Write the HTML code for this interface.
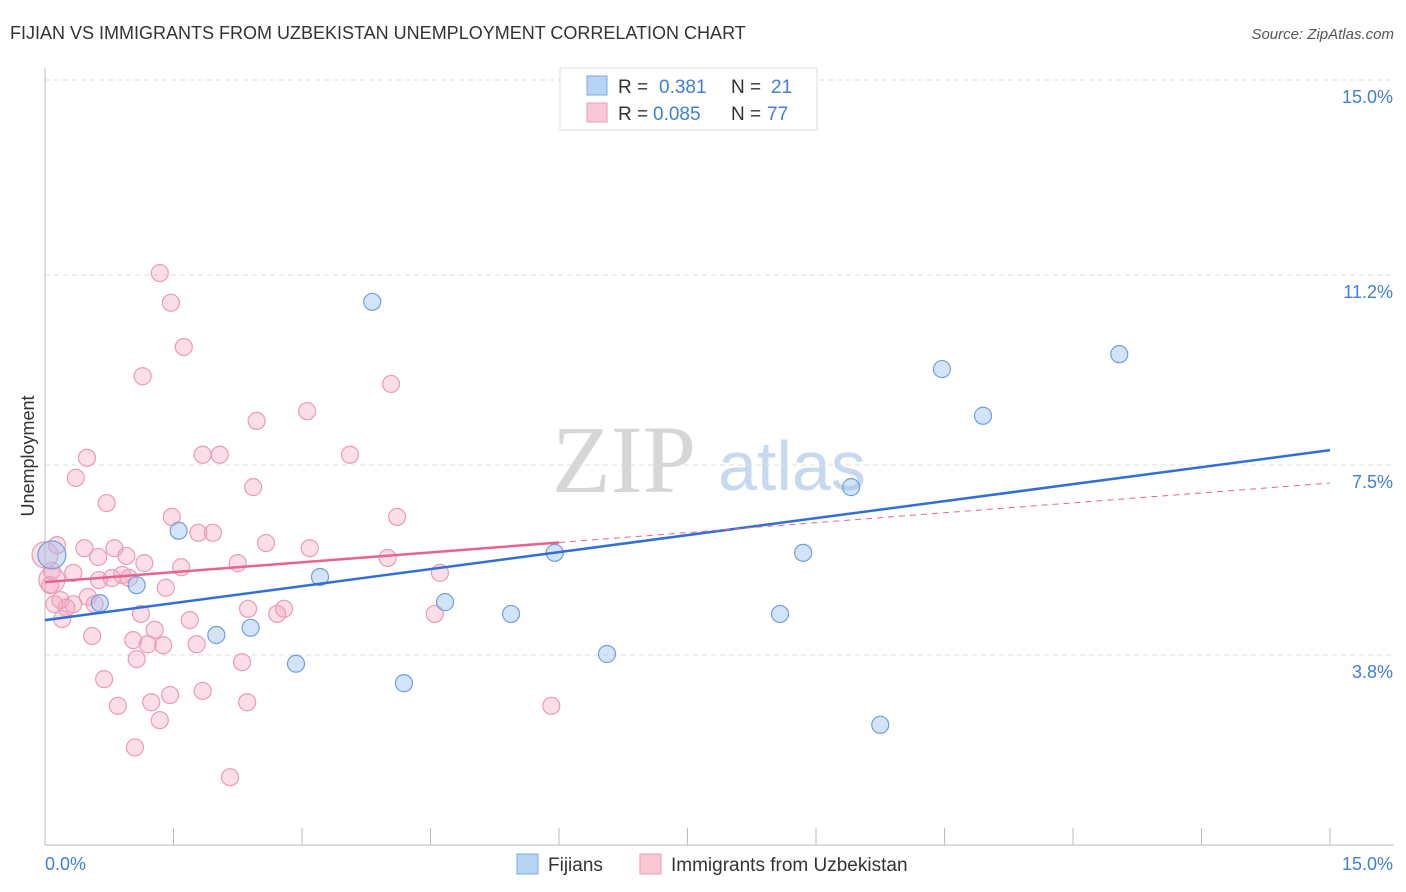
<!DOCTYPE html>
<html><head><meta charset="utf-8"><style>
body{margin:0;background:#fff;font-family:"Liberation Sans",sans-serif;}
svg{display:block}
</style></head><body>
<svg id="chart" width="1406" height="892" font-family="Liberation Sans, sans-serif">
<text x="10" y="39" font-size="18" fill="#333">FIJIAN VS IMMIGRANTS FROM UZBEKISTAN UNEMPLOYMENT CORRELATION CHART</text>
<text x="1394" y="39" font-size="15" fill="#555" font-style="italic" text-anchor="end">Source: ZipAtlas.com</text>
<g>
<text x="552" y="492" font-size="96" font-family="Liberation Serif, serif" fill="#d6d6d6">ZIP</text>
<text x="718" y="490" font-size="70" fill="#c7d9ef">atlas</text>
</g>
<g id="grid"></g>
<g id="axes"></g>
<g id="pink"></g>
<g id="blue"></g>
<g id="trend"></g>
<text transform="translate(34,456) rotate(-90)" font-size="18" fill="#333" text-anchor="middle">Unemployment</text>
<g>
<rect x="560" y="68" width="257" height="62" fill="#fff" stroke="#ddd"/>
<rect x="587" y="76" width="20" height="19" fill="#b7d3f5" stroke="#7aa8e0"/>
<text x="618" y="93" font-size="19" fill="#333">R =</text><text x="659" y="93" font-size="19" fill="#3f7fd6">0.381</text>
<text x="731" y="93" font-size="19" fill="#333">N =</text><text x="771" y="93" font-size="19" fill="#3f7fd6">21</text>
<rect x="587" y="103" width="20" height="19" fill="#f9c8d6" stroke="#eb9bb4"/>
<text x="618" y="120" font-size="19" fill="#333">R =</text><text x="653" y="120" font-size="19" fill="#3f7fd6">0.085</text>
<text x="731" y="120" font-size="19" fill="#333">N =</text><text x="767" y="120" font-size="19" fill="#3f7fd6">77</text>
</g>
<g>
<rect x="517" y="854" width="21" height="20" fill="#b7d3f5" stroke="#7aa8e0"/>
<text x="548" y="871" font-size="19" fill="#333">Fijians</text>
<rect x="640" y="854" width="21" height="20" fill="#f9c8d6" stroke="#eb9bb4"/>
<text x="671" y="871" font-size="19" fill="#333">Immigrants from Uzbekistan</text>
</g>
</svg>
<script>
const yTicks=[15.0,11.2,7.5,3.8];
const yTickLabels=["15.0%","11.2%","7.5%","3.8%"];
const xTickCount=10;
const blueX=[0.08,0.64,1.07,1.56,2.00,2.40,2.93,3.21,3.82,4.19,4.67,5.44,5.95,6.56,8.58,8.85,9.41,9.75,10.47,10.95,12.54];
const blueY=[5.75,4.81,5.16,6.22,4.19,4.33,3.63,5.32,10.68,3.25,4.83,4.60,5.79,3.82,4.60,5.79,7.07,2.44,9.37,8.46,9.66];
const pinkX=[1.34,1.47,1.62,1.14,4.04,3.06,2.47,0.49,1.84,2.04,3.56,0.36,2.43,0.72,1.48,4.11,1.79,1.96,2.58,0.14,0.46,3.09,0.81,0.62,0.95,2.25,4.00,1.59,1.16,0.33,0.08,0.90,0.63,0.98,0.78,0.06,1.41,4.61,0.18,0.50,0.33,0.58,0.25,0.11,2.37,2.79,2.71,1.12,1.69,0.20,4.55,1.28,0.55,1.03,1.20,1.38,1.77,2.30,1.07,0.69,1.84,1.46,1.24,2.36,0.85,1.34,5.91,1.05,2.16,0.0,0.08];
const pinkY=[11.24,10.66,9.80,9.23,9.08,8.55,8.36,7.64,7.70,7.70,7.70,7.25,7.07,6.76,6.49,6.49,6.18,6.18,5.98,5.94,5.88,5.88,5.88,5.71,5.73,5.59,5.69,5.51,5.59,5.40,5.44,5.36,5.26,5.30,5.30,5.16,5.11,5.40,4.87,4.93,4.79,4.79,4.72,4.79,4.70,4.70,4.60,4.60,4.48,4.50,4.60,4.29,4.17,4.09,4.01,3.99,4.01,3.66,3.72,3.33,3.10,3.02,2.88,2.88,2.81,2.53,2.81,2.00,1.42,5.75,5.26];
const blueTrend=[4.48,7.79];
const pinkTrend=[5.22,7.15];
const pinkSolidEnd=6.0;

const NS="http://www.w3.org/2000/svg";
const X=v=>45+v/15*1285;
const Y=v=>80+(15-v)*51.34;
function mk(p,t,a){const e=document.createElementNS(NS,t);for(const k in a)e.setAttribute(k,a[k]);document.getElementById(p).appendChild(e);return e;}
yTicks.forEach((t,i)=>{
 const l=mk('grid','line',{x1:45,x2:1394,y1:Y(t),y2:Y(t),stroke:'#ddd','stroke-dasharray':'5,4'});
 
 
 const tx=mk('grid','text',{x:1393,y:Y(t)+23,'font-size':18,fill:'#3f7fd6','text-anchor':'end'});
 tx.textContent=yTickLabels[i];
 
 
});
const ax=mk('axes','line',{x1:45,x2:45,y1:68,y2:845,stroke:'#bbb'});


const bx=mk('axes','line',{x1:45,x2:1394,y1:845,y2:845,stroke:'#bbb'});


for(let i=1;i<=xTickCount;i++){
 const t=mk('axes','line',{x1:X(i*1.5),x2:X(i*1.5),y1:828,y2:845,stroke:'#bbb'});
 
 
}
const x0=mk('axes','text',{x:45,y:870,'font-size':18,fill:'#3f7fd6'});x0.textContent='0.0%';


const x1=mk('axes','text',{x:1393,y:870,'font-size':18,fill:'#3f7fd6','text-anchor':'end'});x1.textContent='15.0%';


pinkX.forEach((v,i)=>{
 const big=i>=pinkX.length-2;
 const c=mk('pink','circle',{cx:X(v),cy:Y(pinkY[i]),r:big?13:8.5,fill:'rgba(244,160,188,0.35)',stroke:'#eb9bb4','stroke-width':1.2});
 
 
});
blueX.forEach((v,i)=>{
 const c=mk('blue','circle',{cx:X(v),cy:Y(blueY[i]),r:i===0?14:8.5,fill:'rgba(160,196,240,0.45)',stroke:'#6f9fdc','stroke-width':1.2});
 
 
});
const bt=mk('trend','line',{x1:X(0),y1:Y(blueTrend[0]),x2:X(15),y2:Y(blueTrend[1]),stroke:'#2f6fd6','stroke-width':2.5});


const ps=pinkTrend[0]+(pinkTrend[1]-pinkTrend[0])*pinkSolidEnd/15;
const pt=mk('trend','line',{x1:X(0),y1:Y(pinkTrend[0]),x2:X(pinkSolidEnd),y2:Y(ps),stroke:'#e8628e','stroke-width':2.5});


const pd=mk('trend','line',{x1:X(pinkSolidEnd),y1:Y(ps),x2:X(15),y2:Y(pinkTrend[1]),stroke:'#e8628e','stroke-width':1,'stroke-dasharray':'6,5'});


</script>
</body></html>
